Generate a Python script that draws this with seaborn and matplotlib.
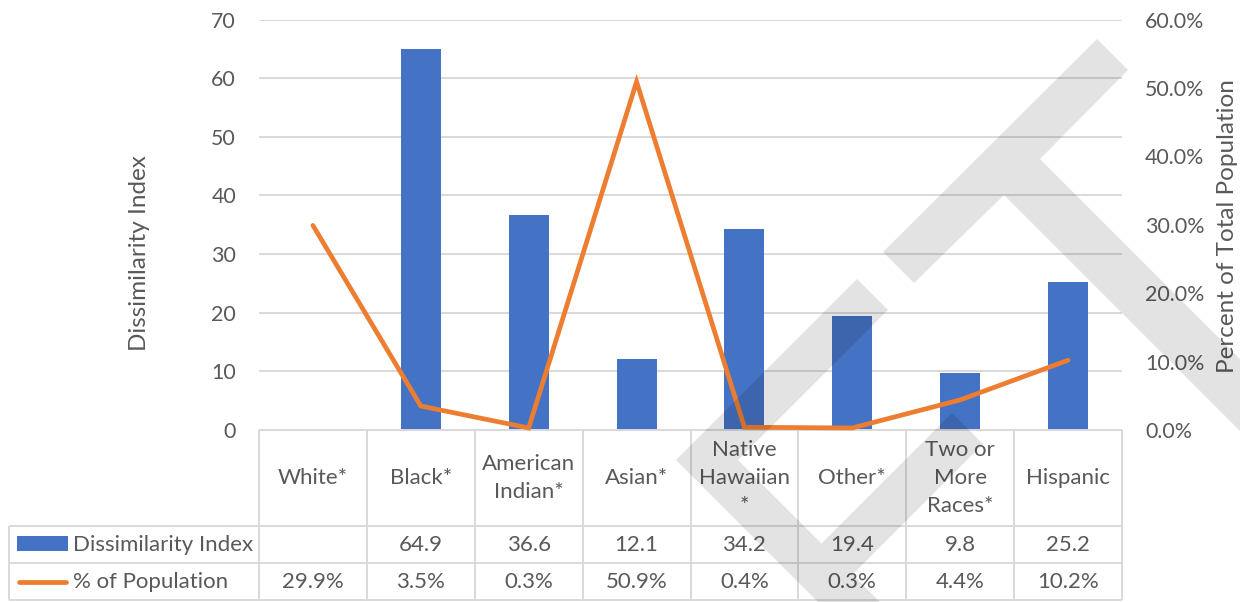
import numpy as np
import pandas as pd
import matplotlib
matplotlib.use("Agg")
import matplotlib.pyplot as plt
import matplotlib.transforms as mtransforms
from matplotlib.patches import Polygon, Rectangle
from matplotlib.ticker import FuncFormatter, MultipleLocator
import seaborn as sns

# ---- data -----------------------------------------------------------------
categories = ["White*", "Black*", "American Indian*", "Asian*",
              "Native Hawaiian *", "Other*", "Two or More Races*", "Hispanic"]
header_labels = ["White*", "Black*", "American\nIndian*", "Asian*",
                 "Native\nHawaiian\n*", "Other*", "Two or\nMore\nRaces*", "Hispanic"]
dissimilarity = [np.nan, 64.9, 36.6, 12.1, 34.2, 19.4, 9.8, 25.2]
pct_population = [29.9, 3.5, 0.3, 50.9, 0.4, 0.3, 4.4, 10.2]
series_names = ["Dissimilarity Index", "% of Population"]

# ---- style ----------------------------------------------------------------
sns.set_theme(style="white")
plt.rcParams["font.family"] = ["Lato", "DejaVu Sans"]
TEXT = "#595959"
GRID = "#d9d9d9"
BLUE = "#4472C4"
ORANGE = "#ED7D31"
FS_TICK = 15.4
FS_TABLE = 16
FS_TITLE = 17.5

W, H = 1240, 602
fig = plt.figure(figsize=(W / 100, H / 100), dpi=100)


def fx(px):
    return px / W


def fy(py):
    return 1 - py / H


X0, X1, YTOP, YBOT = 259, 1122, 19.5, 430
ax = fig.add_axes([fx(X0), fy(YBOT), fx(X1) - fx(X0), fy(YTOP) - fy(YBOT)])

df = pd.DataFrame({"group": categories, "index": dissimilarity})
sns.barplot(data=df, x="group", y="index", order=categories, color=BLUE,
            saturation=1, width=0.37, errorbar=None, edgecolor="none", ax=ax)

ax.set_xlim(-0.5, len(categories) - 0.5)
ax.set_ylim(0, 70)
ax.yaxis.set_major_locator(MultipleLocator(10))
ax.grid(axis="y", color=GRID, linewidth=1.4)
ax.grid(axis="x", visible=False)
ax.set_axisbelow(True)
ax.set_xticks([])
ax.set_xlabel("")
ax.set_ylabel("")
for s in ax.spines.values():
    s.set_visible(False)
ax.tick_params(axis="y", length=0, pad=16.5, labelsize=FS_TICK, labelcolor=TEXT)

ax2 = ax.twinx()
sns.lineplot(x=np.arange(len(categories)), y=pct_population, ax=ax2,
             color=ORANGE, linewidth=3.4)
for ln in ax2.lines:
    ln.set_solid_capstyle("round")
    ln.set_solid_joinstyle("miter")
    ln.set_clip_on(False)
ax2.set_ylim(0, 60)
ax2.yaxis.set_major_locator(MultipleLocator(10))
ax2.yaxis.set_major_formatter(FuncFormatter(lambda v, _: f"{v:.1f}%"))
ax2.grid(False)
for s in ax2.spines.values():
    s.set_visible(False)
ax2.tick_params(axis="y", length=0, pad=16.5, labelsize=FS_TICK, labelcolor=TEXT)
ax2.set_ylabel("")

fig.text(fx(140), fy(253), "Dissimilarity Index", rotation=90, ha="center",
         va="center", fontsize=FS_TITLE, color=TEXT)
fig.text(fx(1228), fy(226), "Percent of Total Population", rotation=90,
         ha="center", va="center", fontsize=FS_TITLE, color=TEXT)

# ---- data table under the plot ---------------------------------------------
tr = mtransforms.blended_transform_factory(ax.transData, fig.transFigure)
n = len(categories)
edges = np.arange(n + 1) - 0.5
left_edge = ax.transData.inverted().transform(
    fig.transFigure.transform((fx(9), 0)))[0]

line_kw = dict(color=GRID, linewidth=1.4, clip_on=False, transform=tr,
               solid_capstyle="butt")
ax.plot([edges[0], edges[-1]], [fy(430), fy(430)], **line_kw)
for yy in (526, 563, 600):
    ax.plot([left_edge, edges[-1]], [fy(yy), fy(yy)], **line_kw)
for xe in edges:
    ax.plot([xe, xe], [fy(430), fy(600)], **line_kw)
ax.plot([left_edge, left_edge], [fy(526), fy(600)], **line_kw)

for i, lab in enumerate(header_labels):
    ax.text(i, fy(478), lab, transform=tr, ha="center", va="center",
            fontsize=FS_TABLE, color=TEXT, linespacing=1.5, clip_on=False)
    di = dissimilarity[i]
    if not np.isnan(di):
        ax.text(i, fy(545), f"{di:.1f}", transform=tr, ha="center",
                va="center", fontsize=FS_TABLE, color=TEXT, clip_on=False)
    ax.text(i, fy(582), f"{pct_population[i]:.1f}%", transform=tr,
            ha="center", va="center", fontsize=FS_TABLE, color=TEXT,
            clip_on=False)

# legend keys inside the table
fig.add_artist(Rectangle((fx(17), fy(551)), fx(68) - fx(17), fy(536) - fy(551),
                         transform=fig.transFigure, color=BLUE, linewidth=0))
fig.add_artist(plt.Line2D([fx(19), fx(66)], [fy(582), fy(582)],
                          transform=fig.transFigure, color=ORANGE,
                          linewidth=3.4, solid_capstyle="round"))
fig.text(fx(73), fy(545), series_names[0], ha="left", va="center",
         fontsize=FS_TABLE, color=TEXT)
fig.text(fx(73), fy(582), series_names[1], ha="left", va="center",
         fontsize=FS_TABLE, color=TEXT)

# ---- translucent diagonal letterforms over the chart -----------------------
letter_t = [(883, 252), (1097, 39), (1128, 70), (1040, 159), (1300, 419),
            (1300, 491), (1004, 195), (914, 283)]
letter_f = [(676, 460), (857, 279), (888, 310), (738, 460), (821.5, 543.5),
            (952, 413), (983, 444), (852.5, 574.5), (978, 700), (916, 700)]
for shape in (letter_t, letter_f):
    pts = [(fx(px), fy(py)) for px, py in shape]
    fig.add_artist(Polygon(pts, closed=True, transform=fig.transFigure,
                           facecolor="black", alpha=0.11, edgecolor="none",
                           zorder=10))

fig.savefig("out.png", dpi=100)
